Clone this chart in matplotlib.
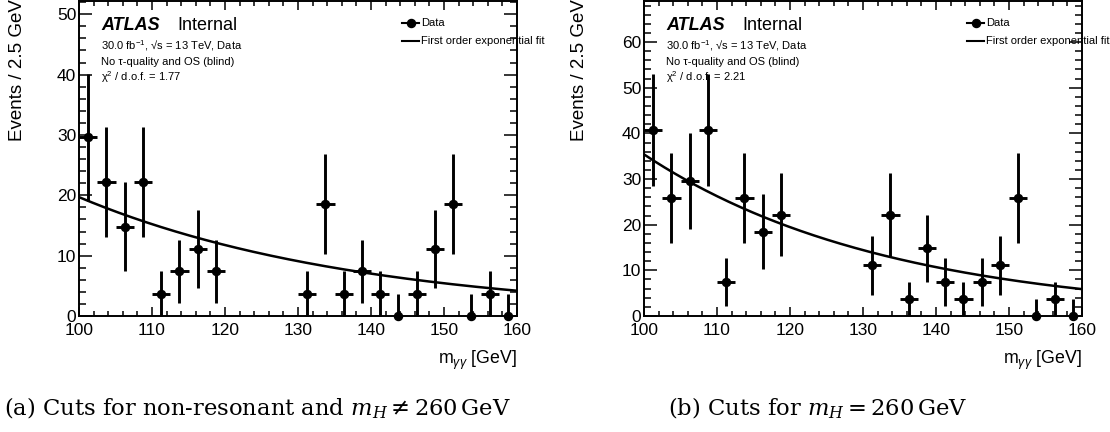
import numpy as np
import matplotlib
matplotlib.use('Agg')
import matplotlib.pyplot as plt
from matplotlib.ticker import MultipleLocator
from matplotlib.lines import Line2D

plt.rcParams['font.family'] = ['Liberation Sans', 'DejaVu Sans']
plt.rcParams['mathtext.fontset'] = 'custom'
plt.rcParams['mathtext.rm'] = 'Liberation Sans'
plt.rcParams['mathtext.it'] = 'Liberation Sans:italic'
plt.rcParams['mathtext.bf'] = 'Liberation Sans:bold'

# ---------------- data ----------------
bin_centers = [101.25, 103.75, 106.25, 108.75, 111.25, 113.75, 116.25, 118.75,
               131.25, 133.75, 136.25, 138.75, 141.25, 143.75, 146.25, 148.75,
               151.25, 153.75, 156.25, 158.75]
bin_half_width = 1.25

events_a = [29.6, 22.2, 14.8, 22.2, 3.7, 7.4, 11.1, 7.4,
            3.7, 18.5, 3.7, 7.4, 3.7, 0.0, 3.7, 11.1, 18.5, 0.0, 3.7, 0.0]
errors_a = [10.5, 9.1, 7.4, 9.1, 3.7, 5.2, 6.4, 5.2,
            3.7, 8.3, 3.7, 5.2, 3.7, 3.7, 3.7, 6.4, 8.3, 3.7, 3.7, 3.7]

events_b = [40.7, 25.9, 29.6, 40.7, 7.4, 25.9, 18.5, 22.2,
            11.1, 22.2, 3.7, 14.8, 7.4, 3.7, 7.4, 11.1, 25.9, 0.0, 3.7, 0.0]
errors_b = [12.3, 9.8, 10.5, 12.3, 5.2, 9.8, 8.3, 9.1,
            6.4, 9.1, 3.7, 7.4, 5.2, 3.7, 5.2, 6.4, 9.8, 3.7, 3.7, 3.7]

# exponential fit parameters: f(m) = norm * exp(slope * (m - 100))
fit_a_norm, fit_a_slope = 19.7, -0.0258
fit_b_norm, fit_b_slope = 35.4, -0.0299

chi2_a = "1.77"
chi2_b = "2.21"
x_range = (100, 160)
ymax_a = 52.2
ymax_b = 69.0

caption_a = r"(a) Cuts for non-resonant and $m_H \neq 260\,$GeV"
caption_b = r"(b) Cuts for $m_H = 260\,$GeV"

# ---------------- layout ----------------
W, H = 1110, 432
fig = plt.figure(figsize=(W / 100, H / 100), dpi=100)


def fx(px):
    return px / W


def fy(py):
    return 1 - py / H


AX_W, AX_TOP, AX_BOT = 438, 1, 316


def panel(left, values, errors, norm, slope, ymax, chi2, caption, cap_center, ylab_off):
    ax = fig.add_axes([fx(left), fy(AX_BOT), AX_W / W, (AX_BOT - AX_TOP) / H])
    xs = np.array(bin_centers)
    vals = np.array(values)
    errs = np.array(errors)
    xerr = np.where(vals > 0, bin_half_width, 0.0)
    yerr_lo = np.where(vals > 0, errs, 0.0)
    ax.errorbar(xs, vals, xerr=xerr, yerr=[yerr_lo, errs], fmt='o', color='black',
                ms=5.8, elinewidth=2.1, capsize=0, clip_on=False, zorder=3)
    m = np.linspace(x_range[0], x_range[1], 300)
    ax.plot(m, norm * np.exp(slope * (m - x_range[0])), color='black', lw=1.8, zorder=2)
    ax.set_xlim(*x_range)
    ax.set_ylim(0, ymax)
    ax.xaxis.set_major_locator(MultipleLocator(10))
    ax.xaxis.set_minor_locator(MultipleLocator(2))
    ax.yaxis.set_major_locator(MultipleLocator(10))
    ax.yaxis.set_minor_locator(MultipleLocator(2))
    ax.tick_params(which='both', direction='in', top=True, right=True, width=1.1,
                   labelsize=12.5, colors='black')
    ax.tick_params(axis='x', which='major', length=6.5, pad=5)
    ax.tick_params(axis='x', which='minor', length=3.6)
    ax.tick_params(axis='y', which='major', length=9.4, pad=2)
    ax.tick_params(axis='y', which='minor', length=5.0)
    for s in ax.spines.values():
        s.set_linewidth(1.4)

    # axis titles
    fig.text(fx(left - ylab_off), fy(141), "Events / 2.5 GeV", rotation=90,
             ha='center', va='bottom', fontsize=13.5)
    fig.text(fx(left + AX_W), fy(360), r"m$_{\gamma\gamma}$ [GeV]",
             ha='right', va='center', fontsize=12.8)

    # ATLAS label
    fig.text(fx(left + 22), fy(25), "ATLAS", fontweight='bold', fontstyle='italic',
             fontsize=13, va='center')
    fig.text(fx(left + 98), fy(25), "Internal", fontsize=13, va='center')
    fig.text(fx(left + 22), fy(46), r"30.0 fb$^{-1}$, √s = 13 TeV, Data",
             fontsize=8, va='center')
    fig.text(fx(left + 22), fy(62), "No τ-quality and OS (blind)",
             fontsize=8, va='center')
    fig.text(fx(left + 22), fy(77), "χ$^{2}$ / d.o.f. = " + chi2,
             fontsize=8, va='center')

    # legend
    lx0, lx1 = left + 323, left + 340
    fig.add_artist(Line2D([fx(lx0), fx(lx1)], [fy(22.7)] * 2, color='black', lw=1.5,
                          transform=fig.transFigure))
    fig.add_artist(Line2D([fx((lx0 + lx1) / 2)], [fy(22.7)], marker='o', ms=5.8,
                          color='black', transform=fig.transFigure))
    fig.text(fx(lx1 + 2), fy(22.7), "Data", fontsize=8, va='center')
    fig.add_artist(Line2D([fx(lx0), fx(lx1)], [fy(40.7)] * 2, color='black', lw=1.5,
                          transform=fig.transFigure))
    fig.text(fx(lx1 + 2), fy(40.7), "First order exponential fit", fontsize=8,
             va='center', zorder=5)

    # caption
    fig.text(fx(cap_center), fy(415), caption, ha='center', va='baseline',
             fontfamily='DejaVu Serif', math_fontfamily='dejavuserif', fontsize=16.3)
    return ax


panel(79, events_a, errors_a, fit_a_norm, fit_a_slope, ymax_a, chi2_a, caption_a, 257, 61.5)
panel(644, events_b, errors_b, fit_b_norm, fit_b_slope, ymax_b, chi2_b, caption_b, 818, 65)

fig.savefig("out.png", dpi=100)
